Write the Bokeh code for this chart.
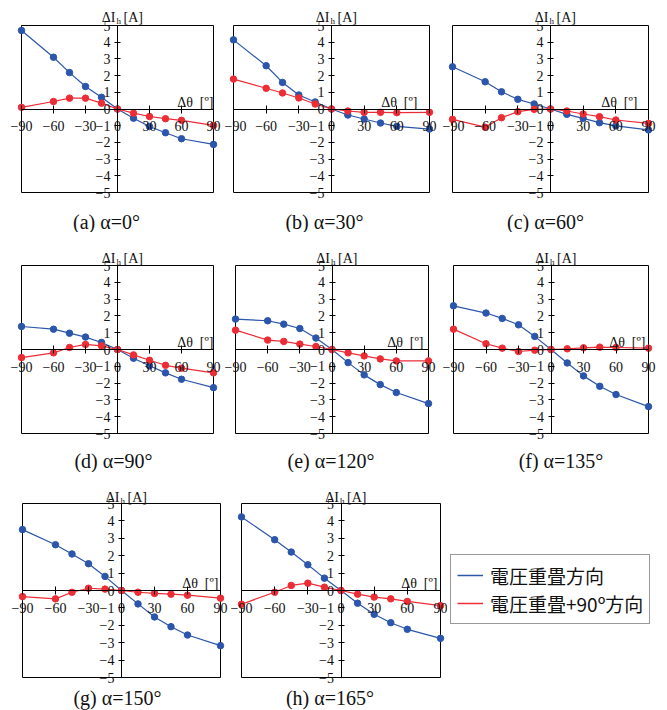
from bokeh.plotting import figure
from bokeh.models import Range1d, FixedTicker, Label, Legend, LegendItem, BoxAnnotation
from bokeh.layouts import row, column
from bokeh.embed import file_html
from bokeh.resources import INLINE

# ---------------- data ----------------
theta = [-90, -60, -45, -30, -15, 0, 15, 30, 45, 60, 90]
x_ticks = [-90, -60, -30, 0, 30, 60, 90]
y_ticks = [-5, -4, -3, -2, -1, 0, 1, 2, 3, 4, 5]
x_lim = (-90, 90)
y_lim = (-5, 5)

captions = ["(a) α=0°", "(b) α=30°", "(c) α=60°", "(d) α=90°",
            "(e) α=120°", "(f) α=135°", "(g) α=150°", "(h) α=165°"]

blue_a = [4.70, 3.10, 2.18, 1.35, 0.70, 0.0, -0.55, -1.05, -1.42, -1.78, -2.12]
red_a = [0.10, 0.45, 0.65, 0.65, 0.35, 0.0, -0.25, -0.45, -0.58, -0.68, -0.98]
blue_b = [4.14, 2.59, 1.59, 0.84, 0.42, 0.0, -0.36, -0.60, -0.84, -1.04, -1.20]
red_b = [1.79, 1.24, 0.96, 0.66, 0.30, 0.0, -0.12, -0.20, -0.20, -0.22, -0.20]
blue_c = [2.53, 1.63, 1.03, 0.58, 0.30, 0.0, -0.32, -0.56, -0.82, -1.01, -1.25]
red_c = [-0.62, -1.09, -0.52, -0.16, -0.02, 0.0, -0.12, -0.30, -0.46, -0.66, -0.86]
blue_d = [1.37, 1.21, 0.97, 0.74, 0.42, 0.0, -0.52, -0.97, -1.39, -1.77, -2.27]
red_d = [-0.48, -0.20, 0.12, 0.30, 0.22, 0.0, -0.32, -0.64, -0.94, -1.11, -1.39]
blue_e = [1.81, 1.71, 1.51, 1.25, 0.68, 0.0, -0.78, -1.51, -2.09, -2.56, -3.22]
red_e = [1.15, 0.56, 0.48, 0.32, 0.18, 0.0, -0.20, -0.38, -0.56, -0.68, -0.68]
blue_f = [2.60, 2.17, 1.85, 1.47, 0.78, 0.0, -0.80, -1.57, -2.19, -2.68, -3.40]
red_f = [1.21, 0.34, 0.08, -0.12, -0.04, 0.0, 0.04, 0.10, 0.14, 0.12, 0.08]
blue_g = [3.50, 2.63, 2.10, 1.54, 0.81, 0.0, -0.77, -1.52, -2.08, -2.56, -3.17]
red_g = [-0.35, -0.48, -0.10, 0.13, 0.08, 0.0, -0.10, -0.17, -0.21, -0.27, -0.44]
blue_h = [4.23, 2.92, 2.21, 1.48, 0.71, 0.0, -0.73, -1.37, -1.85, -2.23, -2.75]
red_h = [-0.79, -0.10, 0.29, 0.42, 0.19, 0.0, -0.21, -0.38, -0.48, -0.63, -0.87]

series_names = ["電圧重畳方向", "電圧重畳+90º方向"]

# ---------------- styling / layout ----------------
BLUE = "#2c56ab"
RED = "#ec2d36"
SERIF = "Liberation Serif"
TXT = "#111111"
NBSP = "\u00a0"

# (fig width, left margin, box width) per panel
cols = [(224, 21, 192), (218, 9, 196), (225, 10, 196),
        (224, 21, 192), (218, 11, 193), (225, 11, 195),
        (230, 22, 198), (217, 11, 199)]
# (fig height, top margin, box height, ylabel offset, caption offset) per row
rows_geo = [(232, 25, 167, 8, 29), (240, 33, 168, 7, 27), (238, 31, 174, 6, 20)]
cap_dx = [-11, -7, -5, -4, -1, 10, -4, -11]
xlab_dx = [0, -12, -11, 0, -5, -3, -2, -3]


def panel(i, blue, red):
    w, left, bw = cols[i]
    h, top, bh, ylab_off, cap_off = rows_geo[i // 3]
    right = w - left - bw
    bottom = h - top - bh
    sx = (x_lim[1] - x_lim[0]) / bw
    sy = (y_lim[1] - y_lim[0]) / bh
    p = figure(width=w, height=h,
               x_range=Range1d(x_lim[0] - left * sx, x_lim[1] + right * sx),
               y_range=Range1d(y_lim[0] - bottom * sy, y_lim[1] + top * sy),
               output_backend="svg", toolbar_location=None, min_border=0)
    p.xgrid.visible = False
    p.ygrid.visible = False
    p.outline_line_color = None
    p.background_fill_color = "white"
    p.border_fill_color = "white"

    p.add_layout(BoxAnnotation(left=x_lim[0], right=x_lim[1], bottom=y_lim[0], top=y_lim[1],
                               fill_alpha=0, line_color="black", line_alpha=1, line_width=1,
                               level="underlay"))

    xa = p.xaxis[0]
    ya = p.yaxis[0]
    xa.fixed_location = 0
    ya.fixed_location = 0
    xa.bounds = x_lim
    ya.bounds = y_lim
    xa.ticker = FixedTicker(ticks=x_ticks)
    ya.ticker = FixedTicker(ticks=y_ticks)
    for ax in (xa, ya):
        ax.minor_tick_line_color = None
        ax.axis_line_color = "black"
        ax.major_tick_line_color = "black"
        ax.major_label_text_font = SERIF
        ax.major_label_text_font_size = "14px"
        ax.major_label_text_color = TXT
    xa.major_tick_in = 4
    xa.major_tick_out = 4
    xa.major_label_standoff = 8
    ya.major_tick_in = 3
    ya.major_tick_out = 3
    ya.major_label_standoff = 4

    p.line(theta, blue, line_color=BLUE, line_width=1.2)
    p.scatter(theta, blue, size=6.5, fill_color=BLUE, line_color=BLUE)
    p.line(theta, red, line_color=RED, line_width=1.2)
    p.scatter(theta, red, size=6.5, fill_color=RED, line_color=RED)

    # x-axis title
    p.add_layout(Label(x=x_lim[1], y=0, x_offset=xlab_dx[i], y_offset=7,
                       text="Δθ" + NBSP + NBSP + "[º]",
                       text_align="right", text_baseline="alphabetic",
                       text_font=SERIF, text_font_size="14px", text_color=TXT))
    # y-axis title  ΔI_h [A]
    p.add_layout(Label(x=0, y=y_lim[1], x_offset=-2, y_offset=ylab_off, text="ΔI",
                       text_align="right", text_baseline="alphabetic",
                       text_font=SERIF, text_font_size="14px", text_color=TXT))
    p.add_layout(Label(x=0, y=y_lim[1], x_offset=-1, y_offset=ylab_off - 3, text="h",
                       text_align="left", text_baseline="alphabetic",
                       text_font=SERIF, text_font_size="9px", text_color=TXT))
    p.add_layout(Label(x=0, y=y_lim[1], x_offset=6, y_offset=ylab_off, text="[A]",
                       text_align="left", text_baseline="alphabetic",
                       text_font=SERIF, text_font_size="14px", text_color=TXT))
    # caption
    p.add_layout(Label(x=0, y=y_lim[0], x_offset=cap_dx[i], y_offset=-cap_off, text=captions[i],
                       text_align="center", text_baseline="alphabetic",
                       text_font=SERIF, text_font_size="20px", text_color=TXT))
    return p


data = [(blue_a, red_a), (blue_b, red_b), (blue_c, red_c), (blue_d, red_d),
        (blue_e, red_e), (blue_f, red_f), (blue_g, red_g), (blue_h, red_h)]
panels = [panel(i, b, r) for i, (b, r) in enumerate(data)]

# legend cell (series lines kept off-view; only the legend is visible)
lg = figure(width=220, height=238, x_range=Range1d(500, 501), y_range=Range1d(500, 501),
            output_backend="svg", toolbar_location=None, min_border=0)
lg.axis.visible = False
lg.xgrid.visible = False
lg.ygrid.visible = False
lg.outline_line_color = None
r1 = lg.line(theta, blue_a, line_color=BLUE, line_width=1.5)
r2 = lg.line(theta, red_a, line_color=RED, line_width=1.5)
legend = Legend(items=[LegendItem(label=series_names[0], renderers=[r1]),
                       LegendItem(label=series_names[1], renderers=[r2])],
                location=(3, 86), orientation="vertical",
                label_text_font="Noto Sans CJK JP", label_text_font_size="19px",
                label_text_color=TXT,
                glyph_width=26, glyph_height=28, label_height=28, label_standoff=7,
                padding=6, spacing=0, margin=0,
                border_line_color="#333333", border_line_width=1,
                background_fill_color="white")
lg.add_layout(legend)

layout = column(row(panels[0], panels[1], panels[2]),
                row(panels[3], panels[4], panels[5]),
                row(panels[6], panels[7], lg))

open("out.html", "w").write(file_html(layout, INLINE))
